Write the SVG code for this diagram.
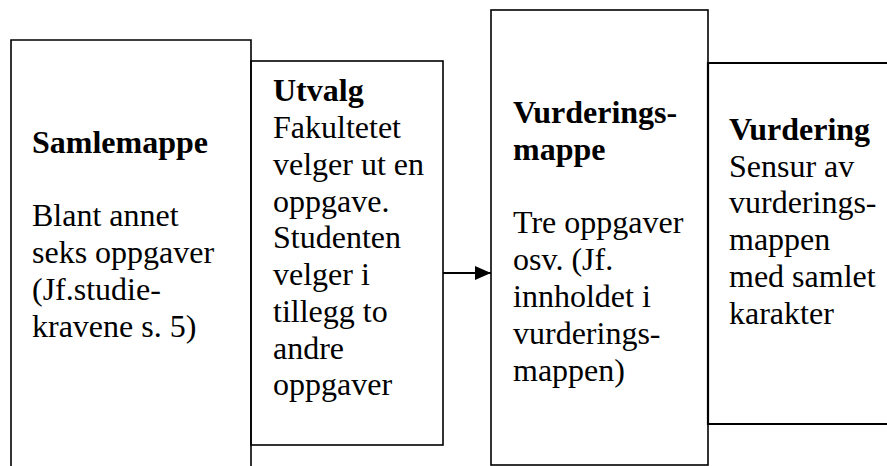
<svg xmlns="http://www.w3.org/2000/svg" width="887" height="466" viewBox="0 0 887 466">
<style>
.bx{fill:none;stroke:#000;stroke-width:1.6}
.bx4{fill:none;stroke:#000;stroke-width:2.2}
.t{font-family:'Liberation Serif','Times New Roman','DejaVu Serif',serif;font-size:32px;fill:#000}
.b{font-weight:bold}
</style>
<defs>
<marker id="ah" markerWidth="16" markerHeight="14" refX="16" refY="7" orient="auto" markerUnits="userSpaceOnUse">
<path d="M0,0 L16,7 L0,14 Z" fill="#000"/>
</marker>
</defs>
<rect width="887" height="466" fill="#fff"/>
<g id="samlemappe" class="t" font-family="Liberation Serif, DejaVu Serif, serif">
<path class="bx" d="M11,467 V40 H251 V467"/>
<text x="32" y="153" class="b">Samlemappe</text>
<text x="32" y="226">Blant annet</text>
<text x="32" y="263">seks oppgaver</text>
<text x="32" y="300">(Jf.studie-</text>
<text x="32" y="337">kravene s. 5)</text>
</g>
<g id="utvalg" class="t" font-family="Liberation Serif, DejaVu Serif, serif">
<rect class="bx" x="251" y="61" width="192" height="384" fill="#fff"/>
<text x="273" y="101" class="b">Utvalg</text>
<text x="273" y="138">Fakultetet</text>
<text x="273" y="175">velger ut en</text>
<text x="273" y="211.5">oppgave.</text>
<text x="273" y="248">Studenten</text>
<text x="273" y="285">velger i</text>
<text x="273" y="322">tillegg to</text>
<text x="273" y="358.5">andre</text>
<text x="273" y="395">oppgaver</text>
</g>
<g id="vurderingsmappe" class="t" font-family="Liberation Serif, DejaVu Serif, serif">
<rect class="bx" x="491" y="10" width="217" height="455"/>
<text x="513" y="123" class="b">Vurderings-</text>
<text x="513" y="160" class="b">mappe</text>
<text x="513" y="233">Tre oppgaver</text>
<text x="513" y="270">osv. (Jf.</text>
<text x="513" y="307">innholdet i</text>
<text x="513" y="344">vurderings-</text>
<text x="513" y="381">mappen)</text>
</g>
<g id="vurdering" class="t" font-family="Liberation Serif, DejaVu Serif, serif">
<path class="bx4" d="M888,63 H708 V424 H888"/>
<text x="729" y="139.5" class="b">Vurdering</text>
<text x="729" y="176.5">Sensur av</text>
<text x="729" y="213">vurderings-</text>
<text x="729" y="250">mappen</text>
<text x="729" y="287">med samlet</text>
<text x="729" y="324">karakter</text>
</g>
<g id="connectors">
<line x1="443" y1="273" x2="491" y2="273" stroke="#000" stroke-width="2" marker-end="url(#ah)"/>
</g>
</svg>
